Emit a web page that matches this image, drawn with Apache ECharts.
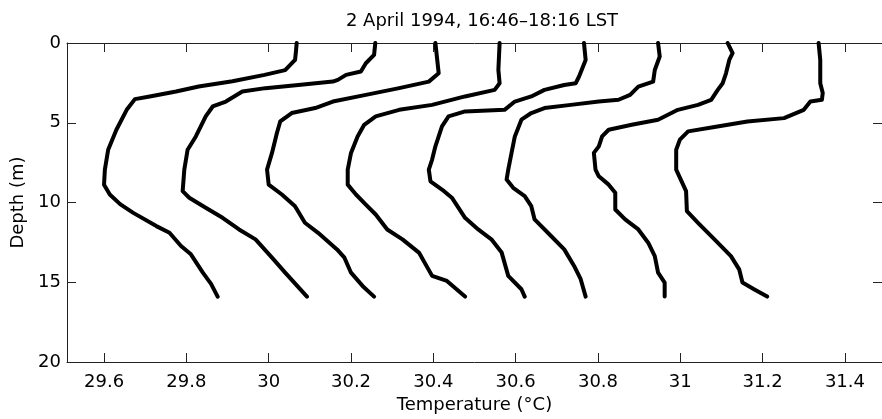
<!DOCTYPE html>
<html>
<head>
<meta charset="utf-8">
<script src="https://cdn.jsdelivr.net/npm/echarts@6/dist/echarts.min.js"></script>
<style>
  html, body { margin: 0; padding: 0; background: #fff; }
  #chart { width: 882px; height: 419px; }
</style>
</head>
<body>
<div id="chart"></div>
<script>
// Temperature (°C) vs depth (m) profiles, [temperature, depth]
const prof1 = [[30.068,0],[30.066,0.6],[30.064,1.06],[30.04,1.7],[29.99,2.0],[29.912,2.4],[29.83,2.73],[29.775,3.04],[29.711,3.35],[29.675,3.52],[29.655,4.19],[29.63,5.44],[29.61,6.69],[29.602,7.94],[29.600,8.88],[29.614,9.5],[29.639,10.1],[29.671,10.65],[29.727,11.48],[29.759,11.9],[29.787,12.73],[29.811,13.25],[29.84,14.4],[29.86,15.1],[29.876,15.9]];
const prof2 = [[30.259,0],[30.256,0.75],[30.236,1.27],[30.224,1.79],[30.188,2.0],[30.168,2.31],[30.156,2.42],[30.072,2.63],[29.992,2.83],[29.936,3.04],[29.896,3.67],[29.864,3.98],[29.847,4.6],[29.823,5.86],[29.803,6.69],[29.795,7.94],[29.791,9.29],[29.807,9.7],[29.847,10.33],[29.888,10.96],[29.928,11.69],[29.968,12.31],[30.008,13.46],[30.040,14.4],[30.093,15.9]];
const prof3 = [[30.405,0],[30.413,1.9],[30.389,2.42],[30.317,2.83],[30.236,3.25],[30.156,3.67],[30.113,4.08],[30.056,4.39],[30.028,4.92],[30.020,5.64],[30.008,6.89],[29.996,7.94],[30.0,8.88],[30.032,9.5],[30.064,10.23],[30.088,11.27],[30.120,11.9],[30.166,12.94],[30.184,13.46],[30.200,14.4],[30.228,15.23],[30.256,15.9]];
const prof4 = [[30.561,0],[30.558,1.69],[30.561,2.52],[30.549,2.94],[30.477,3.35],[30.397,3.88],[30.317,4.19],[30.260,4.6],[30.232,5.13],[30.216,5.86],[30.200,6.89],[30.192,7.94],[30.192,8.88],[30.212,9.5],[30.236,10.13],[30.260,10.75],[30.288,11.69],[30.325,12.31],[30.365,13.14],[30.397,14.6],[30.433,14.92],[30.477,15.9]];
const prof5 = [[30.766,0],[30.770,1.06],[30.754,2.1],[30.746,2.52],[30.718,2.63],[30.670,2.94],[30.638,3.35],[30.598,3.67],[30.573,4.19],[30.477,4.29],[30.437,4.6],[30.421,5.23],[30.405,6.48],[30.397,7.31],[30.389,7.94],[30.393,8.67],[30.421,9.19],[30.445,9.7],[30.477,10.96],[30.509,11.69],[30.541,12.31],[30.566,13.14],[30.582,14.6],[30.614,15.44],[30.622,15.9]];
const prof6 = [[30.946,0],[30.950,0.85],[30.938,1.69],[30.934,2.42],[30.898,2.73],[30.878,3.25],[30.850,3.56],[30.802,3.67],[30.734,3.88],[30.670,4.08],[30.638,4.39],[30.614,4.81],[30.598,5.86],[30.590,6.89],[30.582,7.94],[30.578,8.56],[30.594,9.08],[30.622,9.6],[30.638,10.23],[30.646,11.06],[30.686,12.1],[30.718,12.94],[30.742,13.98],[30.758,14.81],[30.770,15.9]];
const prof7 = [[31.115,0],[31.127,0.64],[31.119,1.06],[31.111,1.9],[31.103,2.52],[31.091,2.94],[31.075,3.56],[31.043,3.88],[30.994,4.19],[30.946,4.81],[30.882,5.13],[30.826,5.44],[30.810,5.86],[30.802,6.48],[30.790,6.89],[30.794,7.94],[30.802,8.36],[30.826,8.88],[30.842,9.39],[30.842,10.44],[30.866,11.06],[30.898,11.69],[30.922,12.52],[30.938,13.36],[30.946,14.4],[30.962,15.02],[30.962,15.9]];
const prof8 = [[31.336,0],[31.340,1.06],[31.340,2.52],[31.346,3.14],[31.344,3.56],[31.316,3.67],[31.300,4.19],[31.252,4.71],[31.163,4.92],[31.083,5.27],[31.019,5.54],[30.999,6.06],[30.990,6.69],[30.990,7.94],[31.014,9.29],[31.016,10.54],[31.043,11.27],[31.083,12.31],[31.123,13.36],[31.143,14.19],[31.151,15.02],[31.179,15.44],[31.211,15.9]];
const profiles = [prof1, prof2, prof3, prof4, prof5, prof6, prof7, prof8];

const xTicks = [29.6, 29.8, 30.0, 30.2, 30.4, 30.6, 30.8, 31.0, 31.2, 31.4];
const yTicks = [0, 5, 10, 15, 20];
const titleText = '2 April 1994, 16:46\u201318:16 LST';
const xName = 'Temperature (\u00B0C)';
const yName = 'Depth (m)';

const FONT = 'DejaVu Sans';
const axisLineStyle = { color: '#222', width: 1 };

const chart = echarts.init(document.getElementById('chart'), null, { renderer: 'canvas' });
chart.setOption({
  animation: false,
  backgroundColor: '#fff',
  title: {
    text: titleText,
    left: 477, top: 7, textAlign: 'center',
    textStyle: { fontFamily: FONT, fontSize: 18, fontWeight: 'normal', color: '#000' }
  },
  grid: { left: 67, top: 43, width: 822, height: 319, containLabel: false },
  xAxis: [{
    type: 'value', position: 'bottom', min: 29.51, max: 31.49,
    name: xName, nameLocation: 'middle', nameGap: 29,
    nameTextStyle: { fontFamily: FONT, fontSize: 18, color: '#000' },
    axisLine: { show: true, onZero: false, lineStyle: axisLineStyle },
    axisTick: { show: true, inside: true, length: 9, customValues: xTicks, lineStyle: axisLineStyle },
    axisLabel: { show: true, customValues: xTicks, margin: 11, fontFamily: FONT, fontSize: 18, color: '#000',
      formatter: v => String(parseFloat(Number(v).toFixed(1))) },
    splitLine: { show: false }
  }, {
    type: 'value', position: 'top', min: 29.51, max: 31.49,
    axisLine: { show: true, onZero: false, lineStyle: axisLineStyle },
    axisTick: { show: true, inside: true, length: 9, customValues: xTicks, lineStyle: axisLineStyle },
    axisLabel: { show: false },
    splitLine: { show: false }
  }],
  yAxis: [{
    type: 'value', position: 'left', inverse: true, min: 0, max: 20, interval: 5,
    name: yName, nameLocation: 'middle', nameGap: 35, nameRotate: 90,
    nameTextStyle: { fontFamily: FONT, fontSize: 18, color: '#000' },
    axisLine: { show: true, onZero: false, lineStyle: axisLineStyle },
    axisTick: { show: true, inside: true, length: 9, customValues: yTicks, lineStyle: axisLineStyle },
    axisLabel: { show: true, margin: 6, customValues: yTicks, fontFamily: FONT, fontSize: 18, color: '#000' },
    splitLine: { show: false }
  }, {
    type: 'value', position: 'right', inverse: true, min: 0, max: 20, interval: 5,
    axisLine: { show: true, onZero: false, lineStyle: axisLineStyle },
    axisTick: { show: true, inside: true, length: 9, customValues: yTicks, lineStyle: axisLineStyle },
    axisLabel: { show: false },
    splitLine: { show: false }
  }],
  series: profiles.map((p, i) => ({
    name: 'Profile ' + (i + 1),
    type: 'line',
    xAxisIndex: 0, yAxisIndex: 0,
    data: p,
    showSymbol: false,
    smooth: false,
    lineStyle: { color: '#000', width: 4, cap: 'round', join: 'round' }
  }))
});
</script>
</body>
</html>
